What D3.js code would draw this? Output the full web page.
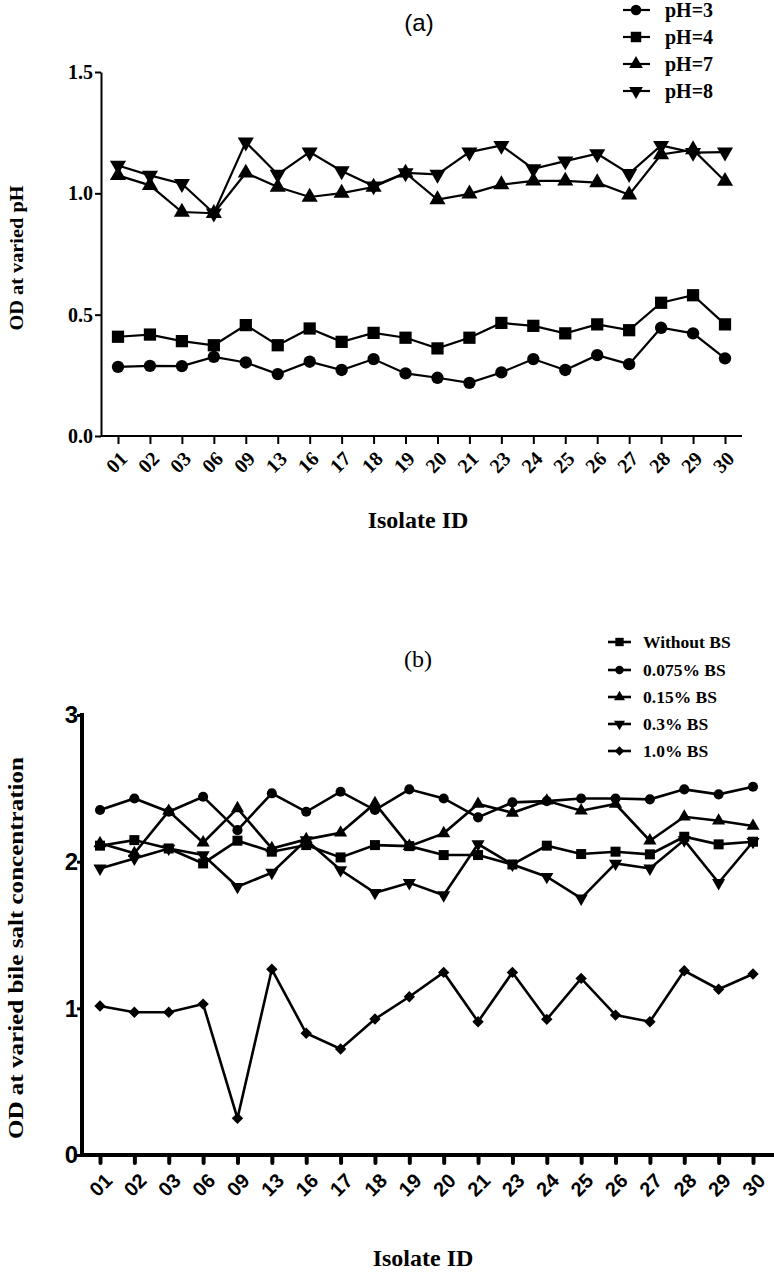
<!DOCTYPE html>
<html><head><meta charset="utf-8">
<script src="https://cdn.jsdelivr.net/npm/d3@7"></script>
<style>body{margin:0;background:#fff}svg{display:block}</style>
</head><body>
<script>
const isolates = ["01","02","03","06","09","13","16","17","18","19","20","21","23","24","25","26","27","28","29","30"];

// Panel (a): OD at varied pH
const pH3 = [0.285,0.289,0.288,0.326,0.303,0.255,0.306,0.272,0.317,0.258,0.240,0.219,0.262,0.317,0.272,0.333,0.296,0.446,0.423,0.320];
const pH4 = [0.409,0.418,0.391,0.374,0.457,0.374,0.443,0.388,0.425,0.405,0.361,0.405,0.466,0.454,0.423,0.460,0.436,0.549,0.580,0.460];
const pH7 = [1.074,1.033,0.923,0.918,1.084,1.026,0.985,1.001,1.026,1.084,0.974,0.998,1.036,1.051,1.051,1.044,0.994,1.160,1.180,1.050];
const pH8 = [1.115,1.074,1.040,0.918,1.211,1.078,1.170,1.092,1.030,1.084,1.078,1.170,1.197,1.101,1.133,1.163,1.081,1.197,1.168,1.170];
const phLabels = ["pH=3","pH=4","pH=7","pH=8"];
const phTicks = [0.0,0.5,1.0,1.5];

// Panel (b): OD at varied bile salt concentration
const bs0 = [2.109,2.147,2.090,1.988,2.143,2.068,2.113,2.029,2.113,2.106,2.045,2.045,1.981,2.109,2.052,2.068,2.050,2.170,2.118,2.136];
const bs0075 = [2.352,2.431,2.340,2.443,2.215,2.466,2.340,2.477,2.352,2.493,2.431,2.302,2.404,2.413,2.431,2.431,2.425,2.493,2.459,2.511];
const bs015 = [2.125,2.057,2.345,2.130,2.363,2.090,2.152,2.197,2.397,2.106,2.193,2.393,2.333,2.415,2.347,2.393,2.143,2.306,2.279,2.243];
const bs03 = [1.954,2.022,2.090,2.045,1.829,1.925,2.147,1.943,1.788,1.856,1.772,2.120,1.981,1.897,1.750,1.988,1.954,2.147,1.856,2.136];
const bs10 = [1.016,0.973,0.973,1.029,0.250,1.266,0.830,0.723,0.927,1.079,1.245,0.909,1.245,0.925,1.204,0.954,0.909,1.256,1.130,1.234];
const bsLabels = ["Without BS","0.075% BS","0.15% BS","0.3% BS","1.0% BS"];
const bsTicks = [0,1,2,3];

const W = 774, H = 1276;
const svg = d3.select("body").append("svg").attr("width", W).attr("height", H);
const serif = "'Liberation Serif','Times New Roman',serif";
const sans = "'Liberation Sans',Arial,sans-serif";

function marker(g, shape, size) {
  let type, rot = 0;
  if (shape === "circle") type = d3.symbolCircle;
  else if (shape === "square") type = d3.symbolSquare;
  else if (shape === "up") type = d3.symbolTriangle;
  else if (shape === "down") { type = d3.symbolTriangle; rot = 180; }
  else if (shape === "diamond") { type = d3.symbolSquare; rot = 45; }
  const sz = shape === "circle" ? size * 0.8 : (shape === "up" || shape === "down") ? size * 0.75 : shape === "diamond" ? size * 0.65 : size;
  return g.append("path").attr("d", d3.symbol().type(type).size(sz)).attr("transform", `rotate(${rot})`).attr("fill", "#000");
}

// ---------- Panel (a) ----------
{
  const x = d3.scalePoint().domain(isolates).range([118, 725]);
  const y = d3.scaleLinear().domain([0, 1.5]).range([436, 72]);
  const series = [
    {vals: pH3, shape: "circle"},
    {vals: pH4, shape: "square"},
    {vals: pH7, shape: "up"},
    {vals: pH8, shape: "down"}
  ];
  svg.append("text").attr("x", 419).attr("y", 31).attr("text-anchor", "middle")
    .attr("font-family", sans).attr("font-size", 24).text("(a)");

  const yAxis = svg.append("g").attr("transform", "translate(101,0)")
    .call(d3.axisLeft(y).tickValues(phTicks).tickFormat(d3.format(".1f")).tickSize(6).tickSizeOuter(0));
  yAxis.select(".domain").attr("stroke-width", 2);
  yAxis.selectAll(".tick line").attr("stroke-width", 2);
  yAxis.selectAll(".tick text").attr("font-family", serif).attr("font-weight", "bold").attr("font-size", 20).attr("x", -8);

  const xAxis = svg.append("g").attr("transform", "translate(0,436)")
    .call(d3.axisBottom(x).tickSize(8).tickSizeOuter(0));
  xAxis.select(".domain").attr("d", "M101,0H742").attr("stroke-width", 2);
  xAxis.selectAll(".tick line").attr("stroke-width", 2);
  xAxis.selectAll(".tick text").attr("font-family", serif).attr("font-weight", "bold").attr("font-size", 20)
    .attr("text-anchor", "end").attr("dy", 0).attr("y", 0)
    .attr("transform", "translate(10,24) rotate(-45)");

  svg.append("text").attr("transform", "translate(23,258) rotate(-90)").attr("text-anchor", "middle")
    .attr("font-family", serif).attr("font-weight", "bold").attr("font-size", 19)
    .attr("textLength", 145).attr("lengthAdjust", "spacingAndGlyphs").text("OD at varied pH");
  svg.append("text").attr("x", 418).attr("y", 528).attr("text-anchor", "middle")
    .attr("font-family", serif).attr("font-weight", "bold").attr("font-size", 24).text("Isolate ID");

  const line = d3.line().x((d, i) => x(isolates[i])).y(d => y(d));
  series.forEach(s => {
    svg.append("path").datum(s.vals).attr("d", line).attr("fill", "none").attr("stroke", "#000").attr("stroke-width", 2.2);
    s.vals.forEach((v, i) => {
      const g = svg.append("g").attr("transform", `translate(${x(isolates[i])},${y(v)})`);
      marker(g, s.shape, 150);
    });
  });

  // legend
  const ly = [10, 37, 64, 91];
  series.forEach((s, i) => {
    const g = svg.append("g").attr("transform", `translate(0,${ly[i]})`);
    g.append("line").attr("x1", 623).attr("x2", 650).attr("stroke", "#000").attr("stroke-width", 2.2);
    const m = g.append("g").attr("transform", "translate(636,0)");
    marker(m, s.shape, 110);
    g.append("text").attr("x", 665).attr("y", 7).attr("font-family", serif).attr("font-weight", "bold")
      .attr("font-size", 20).text(phLabels[i]);
  });
}

// ---------- Panel (b) ----------
{
  const x = d3.scalePoint().domain(isolates).range([100, 753]);
  const y = d3.scaleLinear().domain([0, 3]).range([1155, 715]);
  const series = [
    {vals: bs0, shape: "square"},
    {vals: bs0075, shape: "circle"},
    {vals: bs015, shape: "up"},
    {vals: bs03, shape: "down"},
    {vals: bs10, shape: "diamond"}
  ];
  svg.append("text").attr("x", 418).attr("y", 667).attr("text-anchor", "middle")
    .attr("font-family", serif).attr("font-size", 24).text("(b)");

  const yAxis = svg.append("g").attr("transform", "translate(82,0)")
    .call(d3.axisLeft(y).tickValues(bsTicks).tickFormat(d3.format("d")).tickSize(5).tickSizeOuter(0));
  yAxis.select(".domain").attr("d", "M0,713V1157").attr("stroke-width", 4);
  yAxis.selectAll(".tick line").attr("stroke-width", 3);
  yAxis.selectAll(".tick text").attr("font-family", sans).attr("font-weight", "bold").attr("font-size", 24).attr("x", -4);

  const xAxis = svg.append("g").attr("transform", "translate(0,1155)")
    .call(d3.axisBottom(x).tickSize(8).tickSizeOuter(0));
  xAxis.select(".domain").attr("d", "M80,0H774").attr("stroke-width", 4);
  xAxis.selectAll(".tick line").attr("stroke-width", 4).attr("stroke-linecap", "round");
  xAxis.selectAll(".tick text").attr("font-family", sans).attr("font-weight", "bold").attr("font-size", 20)
    .attr("text-anchor", "end").attr("dy", 0).attr("y", 0)
    .attr("transform", "translate(13,27) rotate(-45)");

  svg.append("text").attr("transform", "translate(23,948) rotate(-90)").attr("text-anchor", "middle")
    .attr("font-family", serif).attr("font-weight", "bold").attr("font-size", 20)
    .attr("textLength", 382).attr("lengthAdjust", "spacingAndGlyphs").text("OD at varied bile salt concentration");
  svg.append("text").attr("x", 423).attr("y", 1266).attr("text-anchor", "middle")
    .attr("font-family", serif).attr("font-weight", "bold").attr("font-size", 24).text("Isolate ID");

  const line = d3.line().x((d, i) => x(isolates[i])).y(d => y(d));
  series.forEach(s => {
    svg.append("path").datum(s.vals).attr("d", line).attr("fill", "none").attr("stroke", "#000").attr("stroke-width", 2.6);
    s.vals.forEach((v, i) => {
      const g = svg.append("g").attr("transform", `translate(${x(isolates[i])},${y(v)})`);
      marker(g, s.shape, 100);
    });
  });

  const ly = [642, 670, 697, 724, 751];
  series.forEach((s, i) => {
    const g = svg.append("g").attr("transform", `translate(0,${ly[i]})`);
    g.append("line").attr("x1", 608).attr("x2", 631).attr("stroke", "#000").attr("stroke-width", 2.6);
    const m = g.append("g").attr("transform", "translate(619.5,0)");
    marker(m, s.shape, 70);
    g.append("text").attr("x", 643).attr("y", 6).attr("font-family", serif).attr("font-weight", "bold")
      .attr("font-size", 17.5).text(bsLabels[i]);
  });
}
</script>
</body></html>
